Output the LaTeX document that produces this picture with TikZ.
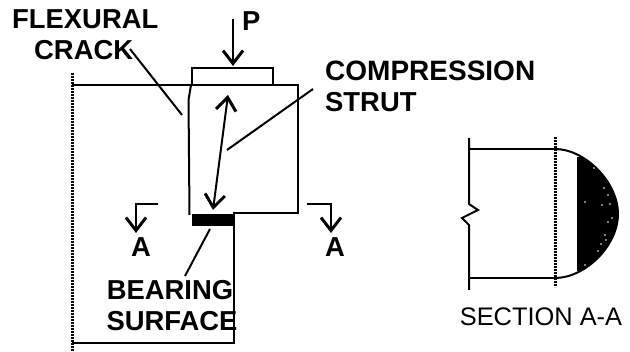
\documentclass[tikz,border=0pt]{standalone}
\usepackage{fontspec}
\setmainfont{Liberation Sans}
\usetikzlibrary{arrows.meta,calc}
\tikzset{
  lbl/.style={font=\bfseries\fontsize{27.4}{28}\selectfont,inner sep=0pt,text=black},
  wall/.style={line width=2pt,black},
  leader/.style={line width=2pt,black},
  dotline/.style={line width=3pt,dash pattern=on 2pt off 1pt,black},
  openarrow/.style={line width=2pt,-{Straight Barb[length=13pt,width=20pt,line width=3pt]}},
  bothway/.style={line width=2pt,{Straight Barb[length=13pt,width=20pt,line width=3pt]}-{Straight Barb[length=13pt,width=20pt,line width=3pt]}}
}
\begin{document}
\begin{tikzpicture}[x=1pt,y=-1pt]
\useasboundingbox (0,0) rectangle (630,352);
% labels
\node[lbl,anchor=west] (flexural) at (12,19) {FLEXURAL};
\node[lbl,anchor=west] (crack) at (34,50) {CRACK};
\node[lbl,anchor=west] (p) at (242,21) {P};
\node[lbl,anchor=west,font=\bfseries\fontsize{28}{28}\selectfont] (comp) at (325,71) {COMPRESSION};
\node[lbl,anchor=west] (strut) at (325,102) {STRUT};
\node[lbl,anchor=center] (bearing) at (170,290) {BEARING};
\node[lbl,anchor=center] (surface) at (172,321) {SURFACE};
\node[lbl,anchor=center] (aleft) at (141,247) {A};
\node[lbl,anchor=center] (aright) at (335,247) {A};
\node[lbl,anchor=center,font=\fontsize{25.4}{26}\selectfont] (section) at (541,317) {SECTION A-A};
% beam
\coordinate (topleft) at (72,85);
\coordinate (topright) at (298,85);
\coordinate (blockbr) at (298,213);
\coordinate (notch) at (234,213);
\coordinate (bottomr) at (234,343);
\coordinate (bottoml) at (72,343);
\draw[wall] (topleft) -- (topright) -- (blockbr) -- (notch) -- (bottomr) -- (bottoml);
\coordinate (dottop) at (72,73);
\coordinate (dotbot) at (72,352);
\draw[dotline] (dottop) -- (dotbot);
% crack
\draw[wall] (191,85) -- (188.5,100) -- (189.5,215);
% plates
\draw[wall] (192,85) -- (192,68) -- (273,68) -- (273,85);
\node[fill=black,inner sep=0pt,minimum width=42pt,minimum height=12pt,anchor=north west] (bearplate) at (192,214) {};
% arrows
\coordinate (ptail) at (233,19);
\coordinate (ptip) at (233,66);
\draw[openarrow] (ptail) -- (ptip);
\coordinate (struttop) at (228,95);
\coordinate (strutbot) at (213,210);
\draw[bothway] (struttop) -- (strutbot);
\coordinate (crackend) at (182,115);
\draw[leader] (130,49) -- (crackend);
\coordinate (compstart) at (313,89);
\coordinate (compend) at (227,150);
\draw[leader] (compstart) -- (compend);
\coordinate (bearend) at (185,276);
\draw[leader] (210,229) -- (bearend);
% section marks
\draw[openarrow] (158,204) -- (136,204) -- (136,233);
\draw[openarrow] (307,204) -- (331,204) -- (331,233);
% section A-A
\coordinate (sectdot) at (555,149);
\coordinate (sectdotb) at (555,278);
\draw[wall] (469,138) -- (469,204) -- (478,210) -- (462,218) -- (469,225) -- (469,290);
\draw[wall] (469,149) -- (sectdot);
\draw[wall] (469,278) -- (sectdotb);
\begin{scope}
\clip (577,158) rectangle (630,271);
\fill[black] (sectdot) .. controls (585,149) and (618,182) .. (618,214) .. controls (618,246) and (585,278) .. (sectdotb) -- cycle;
\end{scope}
\draw[wall] (sectdot) .. controls (585,149) and (618,182) .. (618,214) .. controls (618,246) and (585,278) .. (sectdotb);
\draw[dotline] (555,137) -- (555,287);
\foreach \sx/\sy in {604/188,608/195,602/205,610/204,585/202,608/222,605/235,612/218,601/244,606/240,585/265,598/251,594/168}
  \fill[white] (\sx,\sy) circle (0.8pt);
\end{tikzpicture}
\end{document}
